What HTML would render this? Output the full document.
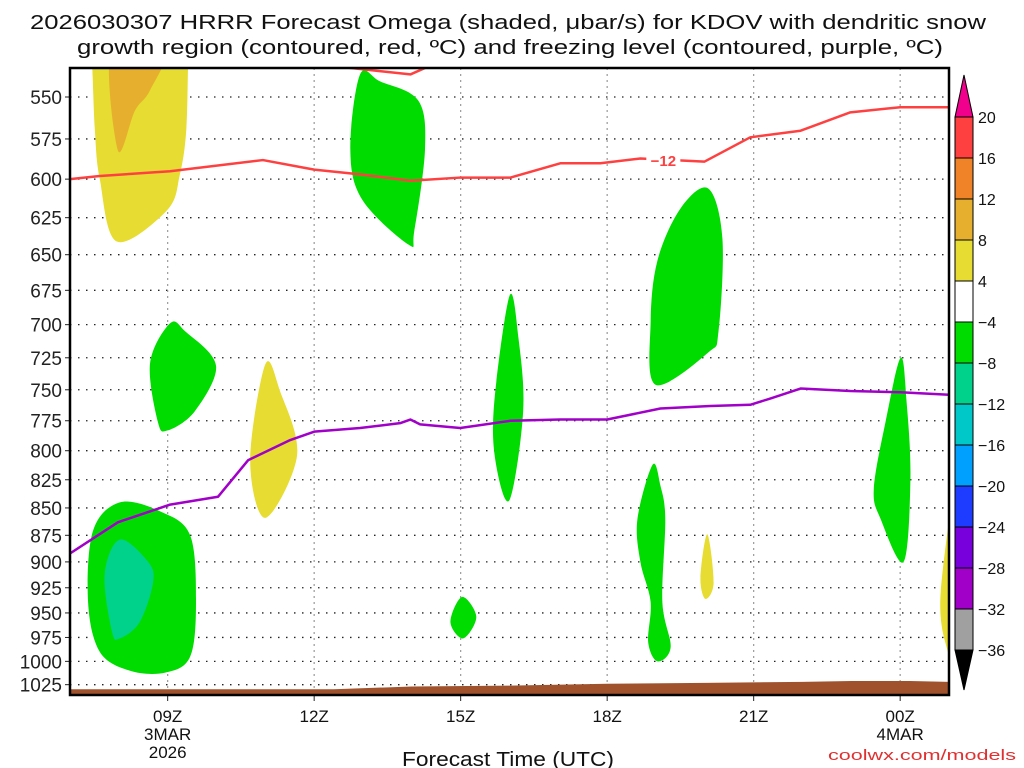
<!DOCTYPE html>
<html><head><meta charset="utf-8"><style>
body{margin:0;background:#fff;}
svg{display:block;font-family:"Liberation Sans","DejaVu Sans",sans-serif;}
</style></head><body>
<svg id="chart" width="1024" height="768" viewBox="0 0 1024 768">
<text x="508" y="29" font-size="20" text-anchor="middle" textLength="956" lengthAdjust="spacingAndGlyphs" fill="#111">2026030307 HRRR Forecast Omega (shaded, μbar/s) for KDOV with dendritic snow</text>
<text x="510" y="54" font-size="20" text-anchor="middle" textLength="866" lengthAdjust="spacingAndGlyphs" fill="#111">growth region (contoured, red, ºC) and freezing level (contoured, purple, ºC)</text>
<defs><clipPath id="plotclip"><rect x="70" y="68" width="879" height="627"/></clipPath></defs>
<g id="grid"></g>
<g id="shades" clip-path="url(#plotclip)"></g>
<g id="lines" clip-path="url(#plotclip)"></g>
<g id="axes"></g>
<g id="cbar"></g>
<text x="508" y="766" font-size="20" text-anchor="middle" textLength="212" lengthAdjust="spacingAndGlyphs" fill="#111">Forecast Time (UTC)</text>
<text x="1016" y="760" font-size="15" text-anchor="end" textLength="188" lengthAdjust="spacingAndGlyphs" fill="#e03030">coolwx.com/models</text>
</svg>
<script>
const pTicks = [550,575,600,625,650,675,700,725,750,775,800,825,850,875,900,925,950,975,1000,1025];
const xTickHours = [9,12,15,18,21,24];
const xTickLabels = [["09Z","3MAR","2026"],["12Z"],["15Z"],["18Z"],["21Z"],["00Z","4MAR"]];
const redHours = [7,7.61,9.05,10.95,12,12.94,13.97,15,16.02,17.04,17.86,18.68,19.99,20.93,21.96,22.98,24,25];
const redP = [600,598,595,588,594,597,601,599,599,590,590,587,589,574,570,559,556,556];
const red2Hours = [12.64,13.97,14.38];
const red2P = [533,537,532];
const frzHours = [7,7.98,9.05,10.03,10.65,11.51,12,12.94,13.76,13.97,14.17,14.99,16.02,17.04,18,19.09,20.11,20.93,21.34,21.96,22.98,24,25];
const frzP = [892,863,847,840,808,791,784,781,777,774,778,781,775,774,774,765,763,762,757,749,751,752,754];
const terrHours = [7,12.4,14,16,18,20,22,23,24.2,25];
const terrP = [1030,1030,1027,1026,1024,1023,1022,1021,1021,1022];
const blobColors = ["#e6dc32","#e6af2d","#00dc00","#00dc00","#00dc00","#e6dc32","#00dc00","#00dc00","#00d28c","#00dc00","#00dc00","#e6dc32","#00dc00","#e6dc32"];
const blobHours = [
 [7.4,7.45,7.51,7.61,7.96,8.99,9.25,9.38,9.42,9.45],
 [7.86,7.98,8.33,8.64,8.99],
 [12.94,12.74,12.98,13.93,14.05,14.27,14.13,13.35],
 [20.07,20.36,20.28,20.07,18.99,18.89,19.03,19.5],
 [9.05,8.64,8.8,9.0,9.56,9.99,9.36],
 [11,10.69,11,11.65,11.3],
 [16,15.69,15.71,16,16.28,16.18],
 [8.02,7.47,7.37,7.61,8.23,8.95,9.46,9.58,9.46,8.84],
 [8.02,7.71,7.86,8.02,8.43,8.7,8.6],
 [15.03,14.79,15.05,15.32],
 [18.93,18.62,18.68,18.89,18.84,19.03,19.3,19.13,19.19,19.09],
 [20.05,19.91,20.01,20.18],
 [24.01,23.7,23.46,23.6,24.07,24.21,24.13],
 [25.2,24.83,24.95,25.2]
];
const blobP = [
 [520,530,570,600,641,620,597,570,530,520],
 [520,582,558,546,520],
 [537,581,613,643,634,581,552,541],
 [606,639,705,721,746,698,654,619],
 [699,729,776,783,767,731,705],
 [730,808,859,804,751],
 [679,759,808,843,767,709],
 [845,871,939,990,1010,1012,995,939,875,853],
 [879,912,969,976,959,920,900],
 [934,959,976,954],
 [812,860,900,939,980,1000,985,939,860,830],
 [874,915,936,920],
 [725,776,833,860,900,824,759],
 [820,929,985,995]
];
const cbarLabels = ["20","16","12","8","4","−4","−8","−12","−16","−20","−24","−28","−32","−36"];
const cbarColors = ["#ff4040","#f08228","#e6af2d","#e6dc32","#ffffff","#00dc00","#00d28c","#00c8c8","#00a0ff","#1e3cff","#7800dc","#a000c8","#a0a0a0"];

const X0=70,X1=949,Y0=68,Y1=695,H0=7,H1=25;
function xs(h){return X0+(h-H0)*(X1-X0)/(H1-H0);}
function ys(p){return 97+944*Math.log(p/550);}
const NS="http://www.w3.org/2000/svg";
function mk(tag,attrs,parent){const e=document.createElementNS(NS,tag);for(const k in attrs)e.setAttribute(k,attrs[k]);parent.appendChild(e);return e;}
function smoothClosed(pts){
  const n=pts.length;let d='M'+pts[0][0]+','+pts[0][1];
  for(let i=0;i<n;i++){
    const p0=pts[(i-1+n)%n],p1=pts[i],p2=pts[(i+1)%n],p3=pts[(i+2)%n];
    const c1=[p1[0]+(p2[0]-p0[0])/6,p1[1]+(p2[1]-p0[1])/6];
    const c2=[p2[0]-(p3[0]-p1[0])/6,p2[1]-(p3[1]-p1[1])/6];
    d+=` C${c1[0]},${c1[1]} ${c2[0]},${c2[1]} ${p2[0]},${p2[1]}`;
  }
  return d+'Z';
}
const grid=document.getElementById('grid'),shades=document.getElementById('shades'),lines=document.getElementById('lines'),axes=document.getElementById('axes'),cbar=document.getElementById('cbar');

pTicks.forEach(p=>{
  const y=ys(p);
  const l=mk('line',{x1:X0,x2:X1,y1:y,y2:y,stroke:'#222','stroke-width':1.3,'stroke-dasharray':'1.5 6.5'},grid);
  
  
  const t=mk('line',{x1:X0-5,x2:X0,y1:y,y2:y,stroke:'#222'},axes);
  
  
  const tx=mk('text',{x:X0-8,y:y+7,'font-size':19,'text-anchor':'end',fill:'#222'},axes);
  tx.textContent=p;
  
  
});
xTickHours.forEach((h,i)=>{
  const x=xs(h);
  const l=mk('line',{x1:x,x2:x,y1:Y0,y2:Y1,stroke:'#999','stroke-width':1.2,'stroke-dasharray':'2 4'},grid);
  
  
  const t=mk('line',{x1:x,x2:x,y1:Y1,y2:Y1+6,stroke:'#222'},axes);
  
  
  xTickLabels[i].forEach((s,j)=>{
    const tx=mk('text',{x:x,y:722+j*18,'font-size':17,'text-anchor':'middle',fill:'#111'},axes);
    tx.textContent=s;
    
    
  });
});
blobColors.forEach((c,i)=>{
  const pts=blobHours[i].map((h,k)=>[xs(h),ys(blobP[i][k])]);
  const pg=mk('path',{d:smoothClosed(pts),fill:c},shades);
  
  
});
{
  let d='M'+xs(terrHours[0])+','+Y1;
  terrHours.forEach((h,k)=>{d+=' L'+xs(h)+','+ys(terrP[k]);});
  d+=' L'+xs(terrHours[terrHours.length-1])+','+Y1+' Z';
  const t=mk('path',{d:d,fill:'#a0522d'},shades);
  
  
}
function poly(hs,ps,col,name){
  const pl=mk('polyline',{points:hs.map((h,k)=>xs(h)+','+ys(ps[k])).join(' '),fill:'none',stroke:col,'stroke-width':2.5,'stroke-linejoin':'round'},lines);
  
  
}
poly(redHours,redP,'#ff4040','dendritic-contour-minus12');
poly(red2Hours,red2P,'#ff4040','dendritic-contour-minus12-upper');
poly(frzHours,frzP,'#a000c8','freezing-level-line');
{
  const lx=xs(19.15),ly=ys(588);
  const r=mk('rect',{x:lx-17,y:ly-9,width:34,height:18,fill:'#fff'},lines);
  
  
  const t=mk('text',{x:lx,y:ly+6,'font-size':15,'font-weight':'bold','text-anchor':'middle',fill:'#ff4040'},lines);
  t.textContent='−12';
  
  
}
{
  const f=mk('rect',{x:X0,y:Y0,width:X1-X0,height:Y1-Y0,fill:'none',stroke:'#000','stroke-width':2.5},axes);
  
  
}
const CX=955,CW=18,CT=117,CB=41;
{
  const t=mk('polygon',{points:`${CX},${CT} ${CX+CW},${CT} ${CX+CW/2},${CT-42}`,fill:'#f0008c',stroke:'#000'},cbar);
  
  
}
cbarColors.forEach((c,i)=>{
  const r=mk('rect',{x:CX,y:CT+i*CB,width:CW,height:CB,fill:c,stroke:'#000','stroke-width':1},cbar);
  
  
});
{
  const yb=CT+cbarColors.length*CB;
  const t=mk('polygon',{points:`${CX},${yb} ${CX+CW},${yb} ${CX+CW/2},${yb+40}`,fill:'#000',stroke:'#000'},cbar);
  
  
}
cbarLabels.forEach((s,i)=>{
  const tx=mk('text',{x:978,y:CT+i*CB+6,'font-size':16,fill:'#111'},cbar);
  tx.textContent=s;
  
  
});
</script>
</body></html>
